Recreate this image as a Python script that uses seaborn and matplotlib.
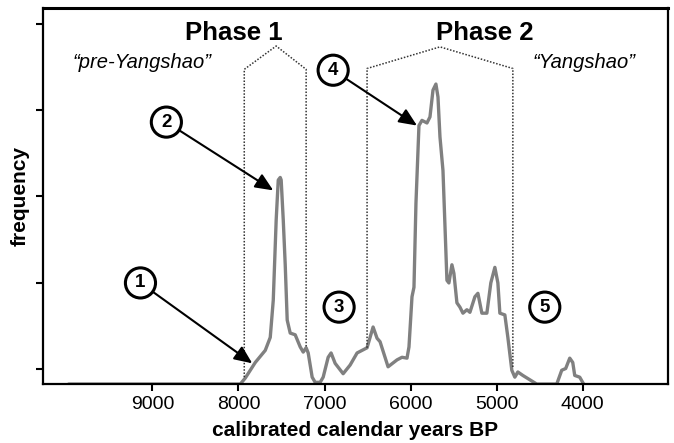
import matplotlib
matplotlib.use("Agg")
import matplotlib.pyplot as plt
import seaborn as sns
import pandas as pd

# Summed probability curve (years BP, relative frequency)
years = [9974, 7979, 7921, 7805, 7689, 7631, 7596, 7562, 7538, 7515, 7504, 7480,
         7457, 7434, 7399, 7341, 7283, 7248, 7214, 7190, 7144, 7109, 7051, 7016,
         6958, 6924, 6877, 6784, 6703, 6622, 6506, 6436, 6390, 6355, 6262, 6158,
         6100, 6042, 6019, 5984, 5961, 5938, 5903, 5868, 5810, 5775, 5740, 5706,
         5682, 5659, 5624, 5578, 5555, 5520, 5497, 5462, 5427, 5392, 5346, 5311,
         5253, 5218, 5172, 5114, 5068, 5021, 4986, 4963, 4905, 4870, 4824, 4789,
         4754, 4696, 4615, 4534, 4302, 4244, 4198, 4151, 4116, 4093, 4035, 3989]
freq = [0.0, 0.0, 0.07, 0.25, 0.39, 0.54, 0.97, 1.90, 2.36, 2.39, 2.36, 1.90,
        1.38, 0.74, 0.59, 0.57, 0.43, 0.37, 0.42, 0.36, 0.08, 0.02, 0.02, 0.08,
        0.31, 0.36, 0.24, 0.12, 0.22, 0.36, 0.42, 0.66, 0.53, 0.49, 0.20, 0.28,
        0.31, 0.30, 0.43, 1.01, 1.12, 2.09, 2.99, 3.05, 3.02, 3.09, 3.40, 3.47,
        3.32, 2.86, 2.47, 1.20, 1.17, 1.38, 1.28, 0.94, 0.89, 0.82, 0.86, 0.83,
        1.01, 1.05, 0.82, 0.82, 1.17, 1.35, 1.17, 0.82, 0.80, 0.54, 0.16, 0.08,
        0.14, 0.10, 0.05, 0.0, 0.0, 0.16, 0.18, 0.30, 0.25, 0.10, 0.08, 0.0]

xticks = [9000, 8000, 7000, 6000, 5000, 4000]

# dotted phase outlines
phase1_x = [7933, 7933, 7562, 7214, 7214]
phase1_y = [0.08, 3.64, 3.91, 3.64, 0.42]
phase2_x = [6506, 6506, 5659, 4812, 4812]
phase2_y = [0.42, 3.65, 3.90, 3.65, 0.18]

# circled markers: label, circle position, arrow target (None = no arrow)
markers = [("1", (9139, 1.17), (7840, 0.24)),
           ("2", (8838, 3.03), (7596, 2.24)),
           ("3", (6831, 0.89), None),
           ("4", (6900, 3.63), (5926, 2.99)),
           ("5", (4441, 0.89), None)]

df = pd.DataFrame({"year": years, "frequency": freq})

sns.set_style("ticks")
plt.rcParams['font.family'] = ['Liberation Sans', 'DejaVu Sans']
plt.rcParams['text.color'] = 'black'
plt.rcParams['axes.labelcolor'] = 'black'
plt.rcParams['xtick.color'] = 'black'
plt.rcParams['ytick.color'] = 'black'

fig = plt.figure(figsize=(6.74, 4.43), dpi=100)
ax = fig.add_axes([0.064, 0.133, 0.927, 0.849])

sns.lineplot(data=df, x="year", y="frequency", color="#808080", linewidth=2.4, ax=ax)

ax.plot(phase1_x, phase1_y, color="#333333", linewidth=1.1, linestyle=(0, (1, 1.1)))
ax.plot(phase2_x, phase2_y, color="#333333", linewidth=1.1, linestyle=(0, (1, 1.1)))

ax.text(8060, 4.06, "Phase 1", fontsize=18.5, fontweight="bold", ha="center", va="center")
ax.text(5137, 4.06, "Phase 2", fontsize=18.5, fontweight="bold", ha="center", va="center")
ax.text(9116, 3.72, "\u201cpre-Yangshao\u201d", fontsize=14.5, style="italic", ha="center", va="center")
ax.text(3989, 3.72, "\u201cYangshao\u201d", fontsize=14.5, style="italic", ha="center", va="center")

for lab, pos, tip in markers:
    bbox = dict(boxstyle="circle,pad=0.35", fc="white", ec="black", lw=2.2)
    if tip is None:
        ax.text(pos[0], pos[1], lab, fontsize=13.5, fontweight="bold",
                ha="center", va="center", bbox=bbox)
    else:
        ax.annotate(lab, xy=tip, xytext=pos, fontsize=13.5, fontweight="bold",
                    ha="center", va="center", bbox=bbox,
                    arrowprops=dict(arrowstyle="-|>,head_length=0.8,head_width=0.35",
                                    color="black", lw=1.5, shrinkA=0, shrinkB=0))

ax.set_xlim(10270, 3010)
ax.set_ylim(0, 4.35)
ax.set_xticks(xticks)
ax.set_xticklabels([str(t) for t in xticks], fontsize=14)
ax.set_yticks([0.17, 1.17, 2.17, 3.17, 4.17])
ax.set_yticklabels([])
ax.tick_params(axis="both", direction="out", length=5, width=1.5, color="black")
ax.set_xlabel("calibrated calendar years BP", fontsize=15, fontweight="bold", labelpad=6)
ax.set_ylabel("frequency", fontsize=15, fontweight="bold", labelpad=1)

for side in ["left", "right", "bottom", "top"]:
    ax.spines[side].set_visible(True)
    ax.spines[side].set_linewidth(1.6)
    ax.spines[side].set_color("black")
ax.spines["top"].set_linewidth(2.2)

plt.savefig("out.png", dpi=100)
